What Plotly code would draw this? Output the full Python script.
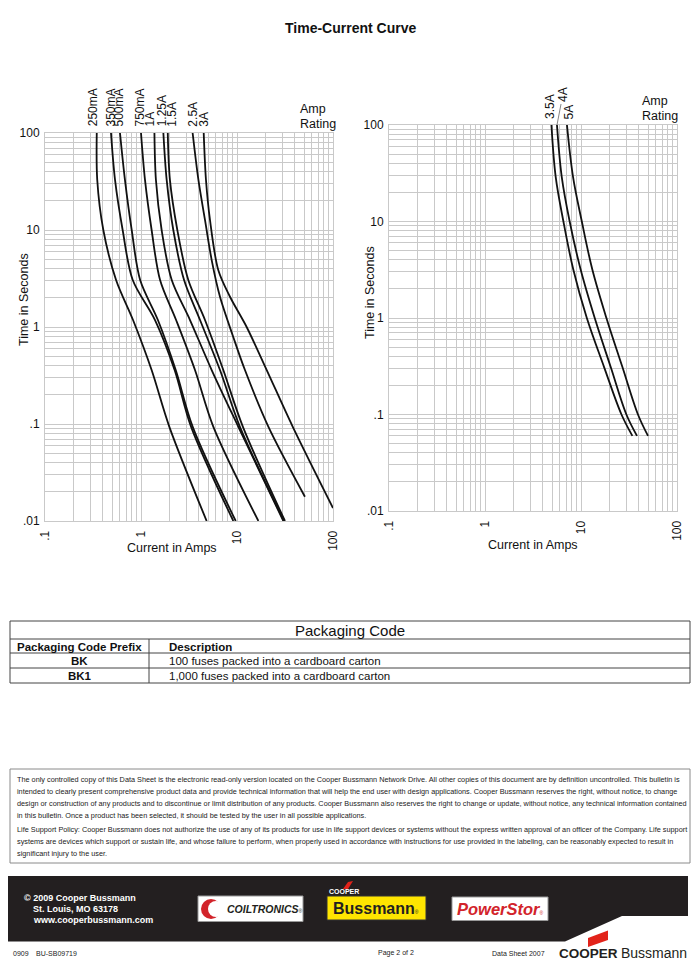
import math
import plotly.graph_objects as go

# ---------------- DATA ----------------
# Left chart: time-current curves (current in A, time in s)
left_labels = ["250mA", "350mA", "500mA", "750mA", "1A", "1.25A", "1.5A", "2.5A", "3A"]
t_common = [100, 33, 10, 3.05, 1.18, 0.36, 0.094, 0.01]
i_250mA = [0.346, 0.35, 0.405, 0.55, 0.826, 1.29, 1.97, 4.83]
i_350mA = [0.487, 0.536, 0.644, 0.82, 1.40, 2.24, 3.32, 9.16]
i_500mA = [0.604, 0.68, 0.80, 0.98, 1.50, 2.30, 3.45, 9.7]
i_750mA = [1.0, 1.10, 1.29, 1.58, 2.32, 3.65, 5.66, 16.7]
i_1A = [1.38, 1.43, 1.64, 2.09, 3.24, 5.45, 10.3, 30.4]
i_1_25A = [1.71, 1.85, 2.17, 2.81, 4.12, 6.65, 10.7, 30.9]
i_1_5A = [1.90, 2.0, 2.39, 3.11, 4.64, 7.2, 11.5, 31.6]
t_2_5A = [100, 33, 12.7, 4.9, 2.05, 0.79, 0.36, 0.094, 0.0178]
i_2_5A = [3.45, 3.96, 4.64, 5.45, 6.65, 9.14, 12.1, 21.2, 51]
t_3A = [100, 33, 12.7, 3.87, 2.05, 1.0, 0.36, 0.094, 0.0136]
i_3A = [4.5, 4.75, 5.23, 6.38, 8.45, 12.6, 20.4, 38, 100]

# Right chart
right_labels = ["3.5A", "4A", "5A"]
t_right = [100, 29, 10, 3.2, 1, 0.31, 0.1, 0.06]
i_3_5A = [4.92, 5.45, 6.56, 8.3, 11.5, 17.4, 26.4, 34.3]
i_4A = [5.62, 6.3, 7.62, 9.9, 13.9, 20.4, 29.7, 38.3]
i_5A = [7.14, 8.26, 10.2, 13.1, 18.4, 27, 39.2, 49.9]

# Ticks
x_tick_vals = [0.1, 1, 10, 100]
x_tick_text = [".1", "1", "10", "100"]
y_tick_vals = [0.01, 0.1, 1, 10, 100]
y_tick_text = [".01", ".1", "1", "10", "100"]

# Packaging table
pkg_prefix = ["BK", "BK1"]
pkg_desc = ["100 fuses packed into a cardboard carton",
            "1,000 fuses packed into a cardboard carton"]

disclaimer_lines = [
    "The only controlled copy of this Data Sheet is the electronic read-only version located on the Cooper Bussmann Network Drive. All other copies of this document are by definition uncontrolled. This bulletin is",
    "intended to clearly present comprehensive product data and provide technical information that will help the end user with design applications. Cooper Bussmann reserves the right, without notice, to change",
    "design or construction of any products and to discontinue or limit distribution of any products. Cooper Bussmann also reserves the right to change or update, without notice, any technical information contained",
    "in this bulletin. Once a product has been selected, it should be tested by the user in all possible applications.",
    "Life Support Policy: Cooper Bussmann does not authorize the use of any of its products for use in life support devices or systems without the express written approval of an officer of the Company. Life support",
    "systems are devices which support or sustain life, and whose failure to perform, when properly used in accordance with instructions for use provided in the labeling, can be reasonably expected to result in",
    "significant injury to the user.",
]

# ---------------- STYLE / LAYOUT HELPERS ----------------
W, H = 700, 980
FONT = "Liberation Sans, Arial, sans-serif"
GRID = "#c9c9c9"
INK = "#111111"
REG = "<span style='font-size:5px'>®</span>"


def px(x):
    return x / W


def py(y):
    return 1 - y / H


def txt(text, x, y, size, xanchor="center", yanchor="middle", color=INK, **kw):
    d = dict(text=text, x=px(x), y=py(y), xref="paper", yref="paper", xanchor=xanchor,
             yanchor=yanchor, showarrow=False, font=dict(size=size, color=color, family=FONT))
    d.update(kw)
    return d


def poly(points, color):
    path = "M " + " L ".join("%f,%f" % (px(a), py(b)) for a, b in points) + " Z"
    return dict(type="path", path=path, xref="paper", yref="paper", fillcolor=color, line=dict(width=0))


minor_x = [m * 10 ** e for e in (-1, 0, 1) for m in range(2, 10)]
minor_y = [m * 10 ** e for e in (-2, -1, 0, 1) for m in range(2, 10)]

left_curves = [
    (i_250mA, t_common), (i_350mA, t_common), (i_500mA, t_common),
    (i_750mA, t_common), (i_1A, t_common), (i_1_25A, t_common),
    (i_1_5A, t_common), (i_2_5A, t_2_5A), (i_3A, t_3A),
]
right_curves = [(i_3_5A, t_right), (i_4A, t_right), (i_5A, t_right)]

fig = go.Figure()
for (ii, tt), name in zip(left_curves, left_labels):
    fig.add_trace(go.Scatter(x=ii, y=tt, mode="lines", name=name, xaxis="x", yaxis="y",
                             line=dict(color=INK, width=1.8, shape="spline", smoothing=0.9),
                             hoverinfo="skip", showlegend=False))
for (ii, tt), name in zip(right_curves, right_labels):
    fig.add_trace(go.Scatter(x=ii, y=tt, mode="lines", name=name, xaxis="x2", yaxis="y2",
                             line=dict(color=INK, width=1.8, shape="spline", smoothing=1.0),
                             hoverinfo="skip", showlegend=False))


def xaxis(domain, anchor):
    return dict(type="log", range=[-1, 2], domain=domain, anchor=anchor, automargin=False,
                tickmode="array", tickvals=x_tick_vals, ticktext=x_tick_text, tickangle=-90,
                showgrid=True, gridcolor=GRID, gridwidth=1,
                minor=dict(tickmode="array", tickvals=minor_x, showgrid=True,
                           gridcolor=GRID, gridwidth=1, ticks=""),
                showline=True, linecolor=GRID, linewidth=1, mirror=True, ticks="",
                zeroline=False, tickfont=dict(size=12, color=INK, family=FONT),
                ticklabelstandoff=4, fixedrange=True)


def yaxis(domain, anchor):
    return dict(type="log", range=[-2, 2], domain=domain, anchor=anchor, automargin=False,
                tickmode="array", tickvals=y_tick_vals, ticktext=y_tick_text,
                showgrid=True, gridcolor=GRID, gridwidth=1,
                minor=dict(tickmode="array", tickvals=minor_y, showgrid=True,
                           gridcolor=GRID, gridwidth=1, ticks=""),
                showline=True, linecolor=GRID, linewidth=1, mirror=True, ticks="",
                zeroline=False, tickfont=dict(size=12, color=INK, family=FONT),
                ticklabelstandoff=2, fixedrange=True)


ann = []
shapes = []

# Title
ann.append(txt("<b>Time-Current Curve</b>", 350, 28, 14))

# Left curve labels (annotation x on log axes is log10 of the value)
left_shift = [-3, 0, 0, -1, -4, -1, 4, 0, 0]
for (ii, tt), name, sh in zip(left_curves, left_labels, left_shift):
    ann.append(dict(text=name, x=math.log10(ii[0]), y=py(128.5), xref="x", yref="paper",
                    xanchor="center", yanchor="bottom", textangle=-90, showarrow=False, xshift=sh,
                    font=dict(size=12, color=INK, family=FONT)))
# Right curve labels
for ii, name, sh in [(i_3_5A, right_labels[0], -2), (i_5A, right_labels[2], 2)]:
    ann.append(dict(text=name, x=math.log10(ii[0]), y=py(121), xref="x2", yref="paper",
                    xanchor="center", yanchor="bottom", textangle=-90, showarrow=False, xshift=sh,
                    font=dict(size=12, color=INK, family=FONT)))
ann.append(dict(text=right_labels[1], x=math.log10(i_4A[0]), y=py(125), xref="x2", yref="paper",
                xanchor="center", yanchor="middle", textangle=-90, showarrow=True, ax=6, ay=-31,
                arrowhead=0, arrowwidth=0.8, arrowcolor="#666666", standoff=0, startstandoff=1,
                font=dict(size=12, color=INK, family=FONT)))

# Amp Rating
for x0, y1, y2 in [(298, 109, 124), (640, 101.5, 116)]:
    ann.append(txt("Amp", x0, y1, 12.5, xanchor="left"))
    ann.append(txt("Rating", x0, y2, 12.5, xanchor="left"))

# Axis titles
for xc, yc in [(24, 300), (370, 293)]:
    ann.append(txt("Time in Seconds", xc, yc, 12.5, textangle=-90))
for xc, yc in [(172, 548), (533, 545)]:
    ann.append(txt("Current in Amps", xc, yc, 12.5))

# ---------------- Packaging table ----------------
TL, TR, TT, TB = 10, 690, 621, 683
LC = "#444444"
shapes.append(dict(type="rect", xref="paper", yref="paper", x0=px(TL), x1=px(TR), y0=py(TB), y1=py(TT),
                   line=dict(color=LC, width=1)))
for yl in (639, 653, 668):
    shapes.append(dict(type="line", xref="paper", yref="paper", x0=px(TL), x1=px(TR), y0=py(yl), y1=py(yl),
                       line=dict(color=LC, width=1)))
shapes.append(dict(type="line", xref="paper", yref="paper", x0=px(149), x1=px(149), y0=py(639), y1=py(TB),
                   line=dict(color=LC, width=1)))
ann.append(txt("Packaging Code", 350, 630.5, 15))
ann.append(txt("<b>Packaging Code Prefix</b>", 79.5, 646.5, 11.5))
ann.append(txt("<b>Description</b>", 167, 646.5, 11.5, xanchor="left"))
for k, (pre, desc) in enumerate(zip(pkg_prefix, pkg_desc)):
    yy = 660.5 + 15 * k
    ann.append(txt("<b>%s</b>" % pre, 79.5, yy, 11.5))
    ann.append(txt(desc, 167, yy, 11.5, xanchor="left"))

# ---------------- Disclaimer ----------------
shapes.append(dict(type="rect", xref="paper", yref="paper", x0=px(10), x1=px(690), y0=py(863), y1=py(769),
                   line=dict(color="#8a8a8a", width=1)))
dis_y = [779, 791, 803, 815, 829, 841, 853]
for line, yy in zip(disclaimer_lines, dis_y):
    ann.append(txt(line, 15, yy, 7.3, xanchor="left", color="#222222"))

# ---------------- Footer band ----------------
shapes.append(poly([(8, 876), (688, 876), (688, 916), (622, 916), (565, 941.5), (8, 941.5)], "#231f20"))
for t_, x0, yy in [("© 2009 Cooper Bussmann", 22, 898), ("St. Louis, MO 63178", 31, 909),
                   ("www.cooperbussmann.com", 31, 920)]:
    ann.append(txt("<b>%s</b>" % t_, x0, yy, 9, xanchor="left", color="white"))

# Coiltronics logo
shapes.append(dict(type="rect", xref="paper", yref="paper", x0=px(198), x1=px(303), y0=py(921.5), y1=py(896),
                   fillcolor="white", line=dict(color="#999999", width=1)))
shapes.append(dict(type="circle", xref="paper", yref="paper", x0=px(201), x1=px(221), y0=py(919), y1=py(899),
                   fillcolor="#d2232a", line=dict(width=0)))
shapes.append(dict(type="circle", xref="paper", yref="paper", x0=px(208), x1=px(224), y0=py(917), y1=py(901),
                   fillcolor="white", line=dict(width=0)))
ann.append(txt("<b><i>COILTRONICS</i></b>" + REG, 225, 909, 10.5, xanchor="left", color="#231f20"))

# Bussmann logo
shapes.append(dict(type="rect", xref="paper", yref="paper", x0=px(327), x1=px(426), y0=py(920), y1=py(896),
                   fillcolor="#ffe500", line=dict(color="#333333", width=1)))
shapes.append(poly([(343, 889), (348, 889), (353, 881), (348, 882)], "#e2231a"))
ann.append(txt("<b>COOPER</b>", 327, 891.5, 7, xanchor="left", color="white"))
ann.append(txt("<b>Bussmann</b>" + REG, 376.5, 908.5, 16, color="#231f20"))

# PowerStor logo
shapes.append(dict(type="rect", xref="paper", yref="paper", x0=px(452), x1=px(548), y0=py(920.5), y1=py(897),
                   fillcolor="white", line=dict(color="#999999", width=1)))
ann.append(txt("<b><i>PowerStor</i></b>" + REG, 500, 909, 16.5, color="#d2232a"))

# Bottom line
for t_, x0 in [("0909", 11), ("BU-SB09719", 34), ("Page 2 of 2", 376), ("Data Sheet 2007", 490)]:
    ann.append(txt(t_, x0, 953, 7, xanchor="left", color="#222222"))
shapes.append(poly([(588, 938), (608, 930.5), (608, 940), (588, 947)], "#e2231a"))
ann.append(txt("<b>COOPER</b>", 556.5, 953, 13.5, xanchor="left", color="#231f20"))
ann.append(txt("Bussmann", 688.5, 953, 14, xanchor="right", color="#231f20"))

fig.update_layout(
    width=W, height=H, autosize=False,
    margin=dict(l=0, r=0, t=0, b=0, autoexpand=False),
    paper_bgcolor="white", plot_bgcolor="white",
    font=dict(family=FONT, color=INK),
    xaxis=xaxis([px(45), px(333)], "y"),
    yaxis=yaxis([py(521), py(133)], "x"),
    xaxis2=xaxis([px(389), px(677)], "y2"),
    yaxis2=yaxis([py(511), py(125)], "x2"),
    annotations=ann, shapes=shapes, showlegend=False,
)

fig.write_html("out.html", config={"displayModeBar": False},
               post_script="document.body.style.margin='0';")
